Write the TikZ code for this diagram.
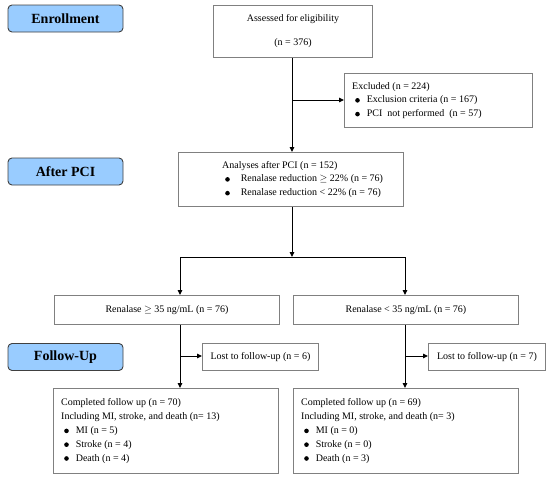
\documentclass[tikz,border=0pt]{standalone}
\usepackage{fontspec}
\setmainfont{Liberation Serif}
\usetikzlibrary{arrows.meta}
\definecolor{lblfill}{RGB}{153,204,255}
\definecolor{boxline}{RGB}{128,128,128}
\newcommand{\blt}{\tikz[baseline=-0.55ex]\fill[black] (0,0) circle (2.3pt);}
\newcommand{\bitem}[1]{\hspace*{3pt}\blt\hspace{7pt}#1}
\tikzset{
  lbl/.style={draw=black!75, fill=lblfill, rounded corners=4pt, line width=0.9pt, minimum width=115pt, minimum height=27pt, font=\fontsize{14}{16}\selectfont\bfseries, inner sep=0pt},
  box/.style={draw=boxline, line width=0.9pt, anchor=north west, inner sep=0pt},
  txt/.style={font=\fontsize{10}{13.8}\selectfont, align=left, inner sep=0pt},
  arr/.style={-{Triangle[length=5pt,width=4.5pt]}, line width=1pt},
  ln/.style={line width=1pt}
}
\begin{document}
\begin{tikzpicture}[x=1pt,y=-1pt]
\useasboundingbox (0,0) rectangle (550,480);
% stage labels
\node[lbl] (l1) at (65.5,18.5) {Enrollment};
\node[lbl] (l2) at (65.5,171.5) {After PCI};
\node[lbl] (l3) at (65.5,357) {Follow-Up};
% boxes
\node[box, minimum width=159pt, minimum height=52pt] (assess) at (213,5) {};
\node[txt, anchor=center] at ([yshift=-14pt]assess.north) {Assessed for eligibility};
\node[txt, anchor=center] at ([yshift=-38pt]assess.north) {(n = 376)};
\node[box, minimum width=188pt, minimum height=54pt] (excl) at (344,73) {};
\node[txt, anchor=west] at ([xshift=8pt]excl.west) {Excluded (n = 224)\\\bitem{Exclusion criteria (n = 167)}\\\bitem{PCI\ \ not performed\ \ (n = 57)}};
\node[box, minimum width=225pt, minimum height=54pt] (ana) at (178,152) {};
\node[txt, anchor=west] at ([xshift=44pt]ana.west) {Analyses after PCI (n = 152)\\\bitem{\hspace{4pt}Renalase reduction $\geq$ 22\% (n = 76)}\\\bitem{\hspace{4pt}Renalase reduction < 22\% (n = 76)}};
\node[box, minimum width=225pt, minimum height=29pt] (rl) at (54,295) {};
\node[txt] at (rl.center) {Renalase $\geq$ 35 ng/mL (n = 76)};
\node[box, minimum width=225pt, minimum height=29pt] (rr) at (293,295) {};
\node[txt] at (rr.center) {Renalase < 35 ng/mL (n = 76)};
\node[box, minimum width=116pt, minimum height=27pt] (lostl) at (202,343) {};
\node[txt] at (lostl.center) {Lost to follow-up (n = 6)};
\node[box, minimum width=117pt, minimum height=27pt] (lostr) at (428,343) {};
\node[txt] at (lostr.center) {Lost to follow-up (n = 7)};
\node[box, minimum width=225pt, minimum height=85pt] (cl) at (53,388) {};
\node[txt, anchor=west] at ([xshift=8pt]cl.west) {Completed follow up (n = 70)\\Including MI, stroke, and death (n= 13)\\\bitem{MI (n = 5)}\\\bitem{Stroke (n = 4)}\\\bitem{Death (n = 4)}};
\node[box, minimum width=225pt, minimum height=85pt] (cr) at (293,388) {};
\node[txt, anchor=west] at ([xshift=8pt]cr.west) {Completed follow up (n = 69)\\Including MI, stroke, and death (n= 3)\\\bitem{MI (n = 0)}\\\bitem{Stroke (n = 0)}\\\bitem{Death (n = 3)}};
% connectors
\coordinate (top) at (292,57);
\coordinate (b1) at (292,100);
\coordinate (hl) at (180,257);
\coordinate (hm) at (292,257);
\coordinate (hr) at (405,257);
\coordinate (bl) at (180,356);
\coordinate (br) at (405,356);
\draw[arr] (top |- assess.south) -- (top |- ana.north);
\draw[arr] (b1) -- (b1 -| excl.west);
\draw[arr] (hm |- ana.south) -- (hm);
\draw[ln] (hl) -- (hr);
\draw[arr] (hl) -- (hl |- rl.north);
\draw[arr] (hr) -- (hr |- rr.north);
\draw[arr] (hl |- rl.south) -- (hl |- cl.north);
\draw[arr] (bl) -- (bl -| lostl.west);
\draw[arr] (hr |- rr.south) -- (hr |- cr.north);
\draw[arr] (br) -- (br -| lostr.west);
\end{tikzpicture}
\end{document}
